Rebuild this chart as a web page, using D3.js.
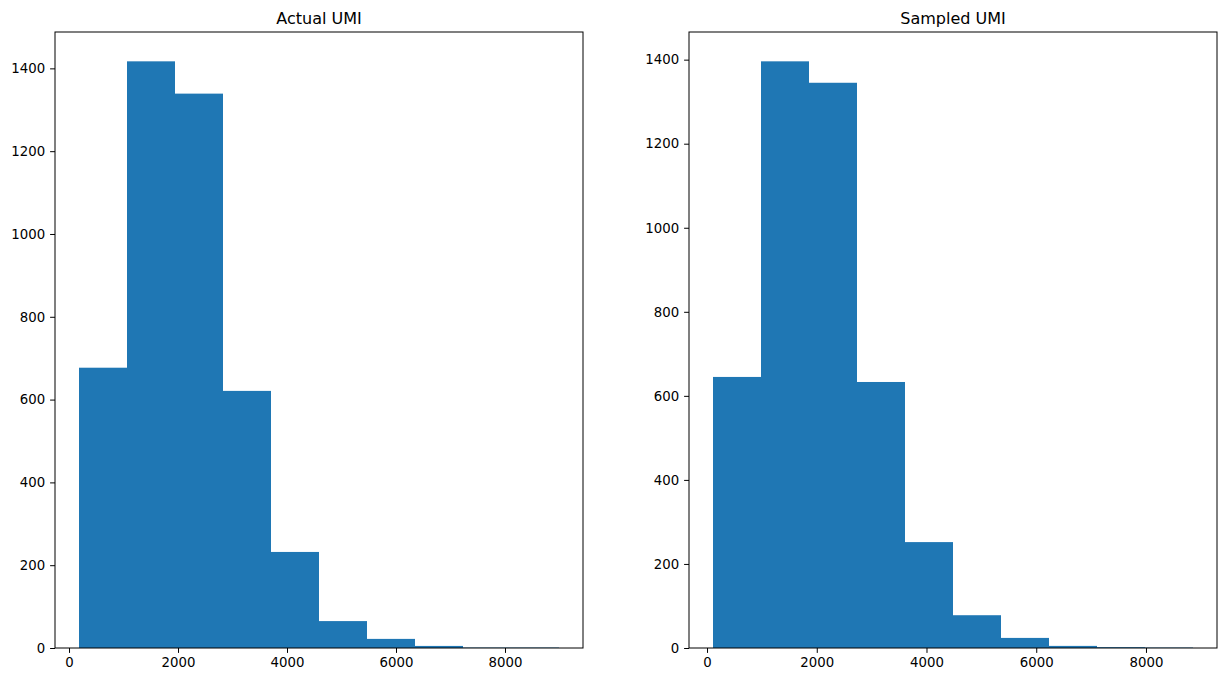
<!DOCTYPE html>
<html>
<head>
<meta charset="utf-8">
<script src="https://cdn.jsdelivr.net/npm/d3@7"></script>
<style>
body { margin: 0; background: #fff; }
text { font-family: "DejaVu Sans", sans-serif; }
</style>
</head>
<body>
<svg id="chart" width="1227" height="682"></svg>
<script>
// Data
const titles = ["Actual UMI", "Sampled UMI"];
const actualRange = [183, 8991];          // min / max of the values (bin range)
const actualCounts = [677, 1417, 1339, 621, 232, 65, 22, 5, 1, 1];
const sampledRange = [109, 8857];
const sampledCounts = [645, 1396, 1345, 633, 252, 78, 24, 5, 2, 1];
const xTicks = [0, 2000, 4000, 6000, 8000];
const yTicks = [0, 200, 400, 600, 800, 1000, 1200, 1400];

const svg = d3.select("#chart");
const panels = [
  { title: titles[0], range: actualRange, counts: actualCounts, left: 55, right: 583 },
  { title: titles[1], range: sampledRange, counts: sampledCounts, left: 689, right: 1217 }
];
const plotTop = 32, plotBottom = 648;

panels.forEach(p => {
  const [mn, mx] = p.range;
  const n = p.counts.length;
  const w = (mx - mn) / n;
  const bins = p.counts.map((c, i) => ({ x0: mn + i * w, x1: mn + (i + 1) * w, c }));
  const pad = 0.05 * (mx - mn);
  const x = d3.scaleLinear().domain([mn - pad, mx + pad]).range([p.left, p.right]);
  const y = d3.scaleLinear().domain([0, 1.05 * d3.max(p.counts)]).range([plotBottom, plotTop]);

  const g = svg.append("g");
  g.selectAll("rect").data(bins).enter().append("rect")
    .attr("x", d => x(d.x0))
    .attr("width", d => x(d.x1) - x(d.x0))
    .attr("y", d => y(d.c))
    .attr("height", d => plotBottom - y(d.c))
    .attr("fill", "#1f77b4");

  const xAxis = d3.axisBottom(x).tickValues(xTicks).tickSize(4.9).tickPadding(4.9).tickFormat(d3.format("d"));
  const gx = g.append("g").attr("transform", `translate(0,${plotBottom})`).call(xAxis);
  const yAxis = d3.axisLeft(y).tickValues(yTicks).tickSize(4.9).tickPadding(4.9).tickFormat(d3.format("d"));
  const gy = g.append("g").attr("transform", `translate(${p.left},0)`).call(yAxis);
  [gx, gy].forEach(a => {
    a.select(".domain").remove();
    a.selectAll("line").attr("stroke", "#000").attr("stroke-width", 1);
    a.selectAll("text").attr("font-size", 13.3).attr("fill", "#000")
      .attr("font-family", "DejaVu Sans, sans-serif");
  });

  g.append("rect")
    .attr("x", p.left).attr("y", plotTop)
    .attr("width", p.right - p.left).attr("height", plotBottom - plotTop)
    .attr("fill", "none").attr("stroke", "#000").attr("stroke-width", 1);

  g.append("text")
    .attr("x", (p.left + p.right) / 2).attr("y", plotTop - 8)
    .attr("text-anchor", "middle").attr("font-size", 16)
    .attr("fill", "#000")
    .text(p.title);
});
</script>
</body>
</html>
